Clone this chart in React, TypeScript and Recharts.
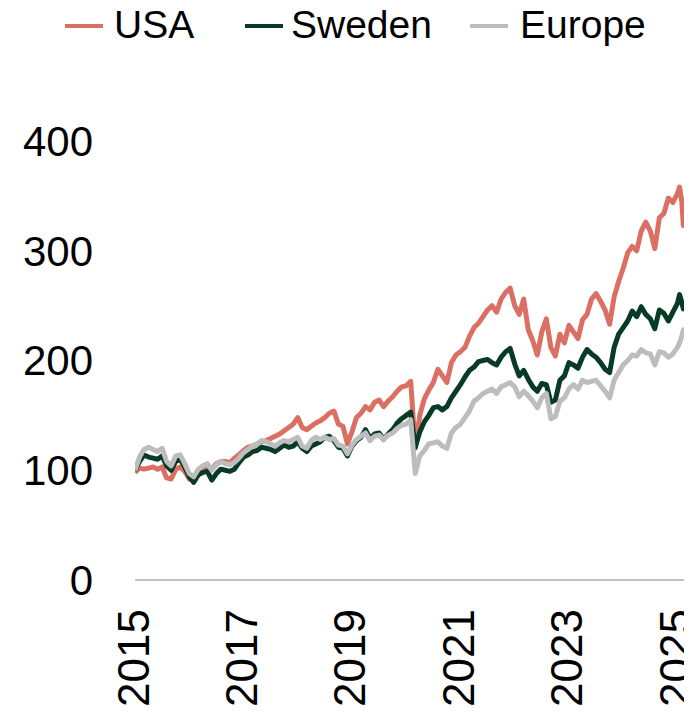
import React from "react";
import { LineChart, Line, XAxis, YAxis } from "recharts";

// Monthly index values (Jan 2015 .. Dec 2024)
const usaValues = [
  98, 102, 101, 102, 103, 101, 103, 93, 92, 101, 103, 99,
  92, 91, 98, 101, 102, 101, 106, 108, 108, 107, 111, 114,
  118, 121, 122, 124, 126, 127, 129, 131, 133, 136, 139, 142,
  148, 139, 137, 140, 143, 145, 148, 152, 154, 142, 140, 124,
  135, 148, 152, 158, 155, 162, 164, 158, 163, 167, 172, 176,
  177, 181, 120, 150, 165, 173, 180, 192, 186, 180, 198, 205,
  208, 212, 222, 230, 234, 240, 246, 250, 244, 256, 262, 266,
  250, 242, 256, 228, 218, 205, 226, 238, 212, 204, 224, 216,
  232, 226, 220, 237, 242, 256, 261, 254, 246, 233, 258, 272,
  284, 298, 304, 300, 318, 326, 318, 302, 330, 334, 348, 344,
];
const swedenValues = [
  100, 108, 114, 112, 111, 110, 113, 104, 100, 108, 110, 103,
  94, 89, 96, 98, 99, 91, 97, 101, 100, 99, 101, 107,
  112, 114, 117, 118, 121, 120, 119, 117, 120, 123, 121, 122,
  126, 120, 117, 122, 124, 126, 130, 131, 127, 121, 120, 113,
  122, 127, 130, 137, 129, 133, 134, 128, 133, 137, 143, 147,
  150, 153, 121, 135, 144, 150, 157, 158, 155, 158, 166, 172,
  178, 185, 191, 194, 199, 200, 201, 198, 196, 203, 208, 211,
  197, 186, 191, 183, 176, 172, 179, 178, 162, 164, 182, 186,
  198, 196, 193, 203, 210, 206, 203, 198, 192, 189, 212, 224,
  230, 236, 245, 240, 249, 242, 238, 229, 246, 243, 236, 244,
];
const europeValues = [
  100, 112, 119, 121, 119, 117, 120, 108, 104, 113, 114, 106,
  97, 94, 101, 104, 106, 100, 105, 108, 106, 105, 107, 111,
  116, 119, 122, 124, 127, 126, 124, 122, 125, 127, 126, 128,
  130, 122, 120, 127, 130, 128, 130, 128, 129, 123, 122, 115,
  123, 128, 131, 134, 127, 131, 132, 128, 132, 134, 138, 141,
  142, 146, 97, 113, 118, 124, 125, 126, 122, 120, 134, 139,
  142, 148, 154, 163, 166, 170, 172, 174, 170, 176, 178, 180,
  176, 167, 172, 168, 163, 157, 166, 170, 147, 149, 163, 166,
  174, 178, 174, 182, 180, 181, 182, 177, 172, 166, 182, 189,
  196, 200, 205, 204, 210, 207, 206, 196, 208, 207, 203, 206,
];

// Early 2025 readings
const tailTimes = [2025.0, 2025.04, 2025.08, 2025.11, 2025.14];
const usaTail = [352, 358, 345, 323, 335];
const swedenTail = [252, 260, 253, 247, 250];
const europeTail = [212, 216, 222, 228, 225];

const yearTicks = [2015, 2017, 2019, 2021, 2023, 2025];
const valueTicks = [0, 100, 200, 300, 400];

const seriesNames = ["USA", "Sweden", "Europe"];
const seriesColors = ["#dc6f63", "#073b26", "#bdbdbd"];

const data = [
  ...usaValues.map((v, i) => ({
    t: 2015 + i / 12,
    USA: v,
    Sweden: swedenValues[i],
    Europe: europeValues[i],
  })),
  ...tailTimes.map((t, i) => ({
    t,
    USA: usaTail[i],
    Sweden: swedenTail[i],
    Europe: europeTail[i],
  })),
];

const FONT = "'Liberation Sans', Arial, sans-serif";

const XTick = (props: any) => {
  const { x, y, payload } = props;
  const cx = x - 2;
  return (
    <text
      x={cx}
      y={y}
      transform={`rotate(-90 ${cx} ${y})`}
      textAnchor="end"
      dominantBaseline="central"
      fontSize={44}
      fontFamily={FONT}
      fill="#000"
    >
      {payload.value}
    </text>
  );
};

const legendLayout = [
  { lineLeft: 57, textLeft: 106 },
  { lineLeft: 237, textLeft: 283 },
  { lineLeft: 462, textLeft: 512 },
];

export default function App() {
  return (
    <div style={{ position: "relative", width: 684, height: 704 }}>
      {seriesNames.map((name, i) => (
        <React.Fragment key={name}>
          <div
            style={{
              position: "absolute",
              left: legendLayout[i].lineLeft,
              top: 16,
              width: 38,
              height: 4,
              background: seriesColors[i],
            }}
          />
          <div
            style={{
              position: "absolute",
              left: legendLayout[i].textLeft,
              top: -3,
              fontSize: 39,
              lineHeight: "40px",
              fontFamily: FONT,
              color: "#000",
              whiteSpace: "nowrap",
            }}
          >
            {name}
          </div>
        </React.Fragment>
      ))}
      <LineChart
        width={684}
        height={704}
        data={data}
        margin={{ top: 133, right: 7, bottom: 0, left: 0 }}
      >
        <XAxis
          dataKey="t"
          type="number"
          domain={[2015, 2025.14]}
          ticks={yearTicks}
          allowDataOverflow
          height={132}
          axisLine={{ stroke: "#c0c0c0", strokeWidth: 2 }}
          tickLine={false}
          tickSize={0}
          tickMargin={29}
          tick={<XTick />}
          interval={0}
        />
        <YAxis
          type="number"
          domain={[0, 400]}
          ticks={valueTicks}
          width={127}
          axisLine={false}
          tickLine={false}
          tickSize={0}
          tickMargin={42}
          tick={{ fontSize: 42, fontFamily: FONT, fill: "#000" }}
          interval={0}
        />
        {seriesNames.map((name, i) => (
          <Line
            key={name}
            type="linear"
            dataKey={name}
            stroke={seriesColors[i]}
            strokeWidth={5}
            strokeLinejoin="round"
            dot={false}
            isAnimationActive={false}
          />
        ))}
      </LineChart>
    </div>
  );
}
